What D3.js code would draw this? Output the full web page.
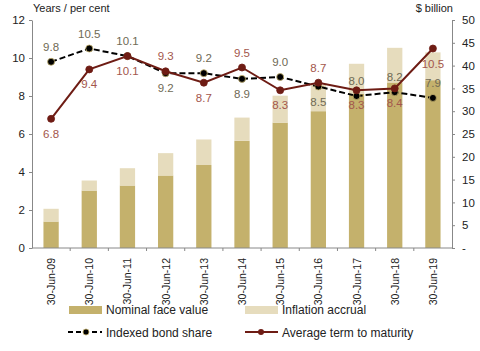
<!DOCTYPE html>
<html>
<head>
<meta charset="utf-8">
<script src="https://cdn.jsdelivr.net/npm/d3@7"></script>
<style>
	body { margin:0; background:#fff; }
	svg { font-family:"Liberation Sans", Arial, sans-serif; }
</style>
</head>
<body>
<svg id="chart" width="480" height="351"></svg>
<script>
var	categories	= ["30-Jun-09","30-Jun-10","30-Jun-11","30-Jun-12","30-Jun-13","30-Jun-14","30-Jun-15","30-Jun-16","30-Jun-17","30-Jun-18","30-Jun-19"],
	nominalFace	= [5.8, 12.6, 13.7, 15.9, 18.2, 23.5, 27.5, 30.0, 33.8, 36.3, 36.8],
	inflation	= [2.8, 2.2, 3.8, 4.9, 5.6, 5.1, 5.9, 5.8, 6.6, 7.6, 6.1],
	indexedShare	= [9.8, 10.5, 10.1, 9.2, 9.2, 8.9, 9.0, 8.5, 8.0, 8.2, 7.9],
	indexedPos	= ["up","up","up","down","up","down","up","down","up","up","up"],
	avgTerm		= [6.8, 9.4, 10.1, 9.3, 8.7, 9.5, 8.3, 8.7, 8.3, 8.4, 10.5],
	avgTermPos	= ["down","down","down","up","down","up","down","up","down","down","down"],
	leftTicks	= [0, 2, 4, 6, 8, 10, 12],
	rightTicks	= [0, 5, 10, 15, 20, 25, 30, 35, 40, 45, 50];

var	svg	= d3.select("#chart"),
	x0 = 32, x1 = 452, yTop = 20, yBot = 248,
	colNominal = "#c4b16c", colInfl = "#e6dcbd", colTerm = "#6e1c14",
	colTermLbl = "#a3564c", colIdxLbl = "#6f6a55";

var	x	= d3.scaleBand().domain(categories).range([x0, x1]).paddingInner(0.6).paddingOuter(0.3),
	yL	= d3.scaleLinear().domain([0, 12]).range([yBot, yTop]),
	yR	= d3.scaleLinear().domain([0, 50]).range([yBot, yTop]);

function cx(d) { return x(d) + x.bandwidth()/2; }

// bars
var bars = svg.append("g").selectAll("g").data(categories).enter().append("g");
bars.append("rect")
	.attr("x", function(d) { return x(d); })
	.attr("width", x.bandwidth())
	.attr("y", function(d, i) { return yR(nominalFace[i]); })
	.attr("height", function(d, i) { return yR(0) - yR(nominalFace[i]); })
	.attr("fill", colNominal);
bars.append("rect")
	.attr("x", function(d) { return x(d); })
	.attr("width", x.bandwidth())
	.attr("y", function(d, i) { return yR(nominalFace[i] + inflation[i]); })
	.attr("height", function(d, i) { return yR(nominalFace[i]) - yR(nominalFace[i] + inflation[i]); })
	.attr("fill", colInfl);

// axes
var axL = svg.append("g").attr("transform", "translate(" + x0 + ",0)")
	.call(d3.axisLeft(yL).tickValues(leftTicks).tickSize(3).tickSizeOuter(0));
var axR = svg.append("g").attr("transform", "translate(" + x1 + ",0)")
	.call(d3.axisRight(yR).tickValues(rightTicks).tickSize(3).tickSizeOuter(0)
		.tickFormat(function(d) { return d === 0 ? "-" : d; }));
[axL, axR].forEach(function(a) {
	a.select(".domain").attr("stroke", "#888");
	a.selectAll(".tick line").attr("stroke", "#888");
	a.selectAll("text").attr("fill", "#222").style("font-size", "11.5px");
});
axL.selectAll("text").attr("x", -7);
axR.selectAll("text").attr("x", 10);

// x axis with ticks at band boundaries
var step = x.step(), xa = svg.append("g");
xa.append("line").attr("x1", x0).attr("x2", x1).attr("y1", yBot).attr("y2", yBot).attr("stroke", "#888");
xa.selectAll(".tk").data(d3.range(1, categories.length)).enter().append("line")
	.attr("x1", function(i) { return x0 + i*step; }).attr("x2", function(i) { return x0 + i*step; })
	.attr("y1", yBot).attr("y2", yBot + 3).attr("stroke", "#888");
xa.selectAll("text").data(categories).enter().append("text")
	.attr("transform", function(d) { return "translate(" + (cx(d) + 4) + "," + (yBot + 10) + ") rotate(-90)"; })
	.attr("text-anchor", "end")
	.style("font-size", "10.5px").attr("fill", "#222")
	.text(function(d) { return d; });

// axis titles
svg.append("text").attr("x", 33).attr("y", 12).style("font-size", "11px").attr("fill", "#222").text("Years / per cent");
svg.append("text").attr("x", 453).attr("y", 12).attr("text-anchor", "end").style("font-size", "11px").attr("fill", "#222").text("$ billion");

// lines
function drawSeries(vals, pos, stroke, dash, lblColor, dotFill, dotStroke) {
	var g = svg.append("g"),
		line = d3.line().x(function(d, i) { return cx(categories[i]); }).y(function(d) { return yL(d); });
	g.append("path").datum(vals).attr("d", line).attr("fill", "none")
		.attr("stroke", stroke).attr("stroke-width", 2).attr("stroke-dasharray", dash);
	g.selectAll("circle").data(vals).enter().append("circle")
		.attr("cx", function(d, i) { return cx(categories[i]); })
		.attr("cy", function(d) { return yL(d); })
		.attr("r", 3.5).attr("fill", dotFill).attr("stroke", dotStroke).attr("stroke-width", 0.8);
	g.selectAll("text").data(vals).enter().append("text")
		.attr("x", function(d, i) { return cx(categories[i]); })
		.attr("y", function(d, i) { return yL(d) + (pos[i] == "up" ? -11 : 19); })
		.attr("text-anchor", "middle").style("font-size", "11.5px").attr("fill", lblColor)
		.text(function(d) { return d.toFixed(1); });
}
drawSeries(indexedShare, indexedPos, "#000", "6,3", colIdxLbl, "#000", "#c4b16c");
drawSeries(avgTerm, avgTermPos, colTerm, null, colTermLbl, colTerm, colTerm);

// legend
var lg = svg.append("g").style("font-size", "12px");
lg.append("rect").attr("x", 69).attr("y", 306).attr("width", 33).attr("height", 8).attr("fill", colNominal);
lg.append("text").attr("x", 106).attr("y", 314).attr("fill", "#222").text("Nominal face value");
lg.append("rect").attr("x", 245).attr("y", 306).attr("width", 33).attr("height", 8).attr("fill", colInfl);
lg.append("text").attr("x", 282).attr("y", 314).attr("fill", "#222").text("Inflation accrual");
lg.append("line").attr("x1", 68).attr("x2", 102).attr("y1", 332).attr("y2", 332)
	.attr("stroke", "#000").attr("stroke-width", 2).attr("stroke-dasharray", "5,3");
lg.append("circle").attr("cx", 86).attr("cy", 332).attr("r", 3).attr("fill", "#000").attr("stroke", colNominal).attr("stroke-width", 0.8);
lg.append("text").attr("x", 106).attr("y", 337).attr("fill", "#222").text("Indexed bond share");
lg.append("line").attr("x1", 245).attr("x2", 278).attr("y1", 332).attr("y2", 332)
	.attr("stroke", colTerm).attr("stroke-width", 2);
lg.append("circle").attr("cx", 261).attr("cy", 332).attr("r", 3).attr("fill", colTerm);
lg.append("text").attr("x", 282).attr("y", 337).attr("fill", "#222").text("Average term to maturity");
</script>
</body>
</html>
